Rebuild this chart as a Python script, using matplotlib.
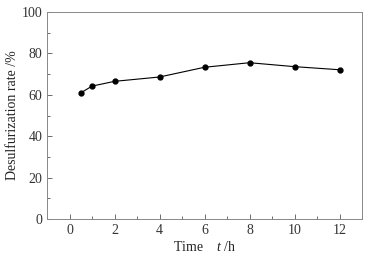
import matplotlib
matplotlib.use("Agg")
import matplotlib.pyplot as plt
from matplotlib.ticker import MultipleLocator

# Data
time_h = [0.5, 1, 2, 4, 6, 8, 10, 12]
desulf_rate = [60.9, 64.2, 66.5, 68.6, 73.3, 75.5, 73.6, 72.1]

plt.rcParams['font.family'] = 'Liberation Serif'
plt.rcParams['mathtext.fontset'] = 'custom'
plt.rcParams['mathtext.it'] = 'Liberation Serif:italic'

fig = plt.figure(figsize=(3.7, 2.56), dpi=100)
ax = fig.add_axes([47/370, 1 - 219/256, 315/370, 207/256])

ax.plot(time_h, desulf_rate, color='black', lw=0.8, marker='o', ms=3.5)

ax.set_xlim(-1, 13)
ax.set_ylim(0, 100)
ax.xaxis.set_major_locator(MultipleLocator(2))
ax.xaxis.set_minor_locator(MultipleLocator(1))
ax.yaxis.set_major_locator(MultipleLocator(20))
ax.yaxis.set_minor_locator(MultipleLocator(10))
ax.tick_params(which='both', direction='in', colors='#555555', labelcolor='#333333', labelsize=10)
ax.tick_params(which='major', length=3.5, width=0.6)
ax.tick_params(which='minor', length=2, width=0.6)
for s in ax.spines.values():
    s.set_color('#888888')
    s.set_linewidth(0.7)

ax.set_xlabel('Time    $t$ /h', fontsize=10, color='#222222', labelpad=2)
ax.set_ylabel('Desulfurization rate /%', fontsize=10, color='#222222', labelpad=2)

fig.savefig('out.png', dpi=100)
